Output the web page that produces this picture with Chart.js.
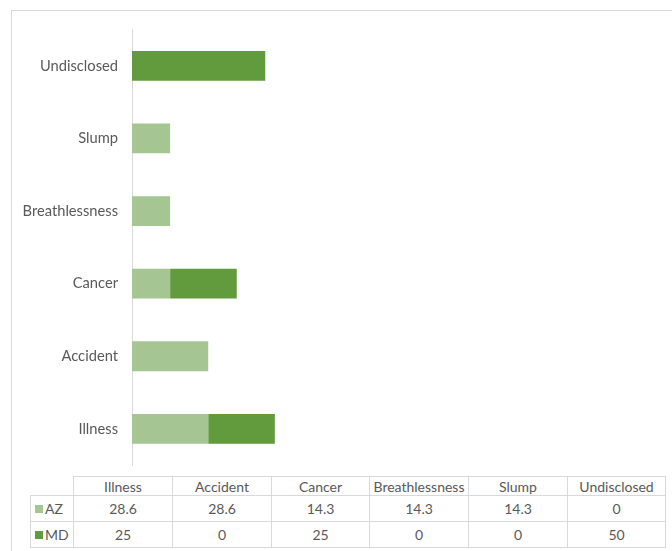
<!DOCTYPE html>
<html>
<head>
<meta charset="utf-8">
<script src="https://cdn.jsdelivr.net/npm/chart.js@4/dist/chart.umd.min.js"></script>
<style>
  html, body { margin: 0; padding: 0; background: #fff; width: 672px; height: 551px; overflow: hidden; }
  #frame { position: absolute; left: 11px; top: 10px; width: 700px; height: 600px; border: 1px solid #d9d9d9; box-sizing: border-box; }
  #wrap { position: absolute; left: 0; top: 0; width: 672px; height: 488px; }
  #tbl { position: absolute; left: 30px; top: 476px; border-collapse: collapse; font-family: Lato, "Open Sans", sans-serif; font-size: 14px; color: #595959; table-layout: fixed; background: #fff; }
  #tbl td { border: 1px solid #d9d9d9; text-align: center; padding: 0; white-space: nowrap; overflow: hidden; }
  #tbl tr.h td { height: 18px; }
  #tbl tr.d td { height: 25px; }
  #tbl td.corner { border-left: none; border-top: none; background: transparent; }
  #tbl td.lg { text-align: left; padding-left: 4px; }
  .sw { display: inline-block; width: 8px; height: 8px; margin-right: 2px; vertical-align: 1px; }
</style>
</head>
<body>
<div id="frame"></div>
<div id="wrap"><canvas id="c" width="672" height="488"></canvas></div>
<table id="tbl"></table>
<script>
const categories = ["Illness", "Accident", "Cancer", "Breathlessness", "Slump", "Undisclosed"];
const seriesNames = ["AZ", "MD"];
const azValues = [28.6, 28.6, 14.3, 14.3, 14.3, 0];
const mdValues = [25, 0, 25, 0, 0, 50];
const seriesColors = ["#a5c593", "#629a3e"];

const allValues = [azValues, mdValues];

// Build the data table below the chart from the same arrays
const tbl = document.getElementById('tbl');
const colW = [43, 99, 99, 98, 99, 99, 98];
let cg = '<colgroup>' + colW.map(w => '<col style="width:' + w + 'px">').join('') + '</colgroup>';
let html = cg + '<tr class="h"><td class="corner"></td>' + categories.map(c => '<td>' + c + '</td>').join('') + '</tr>';
seriesNames.forEach((s, i) => {
  html += '<tr class="d"><td class="lg"><span class="sw" style="background:' + seriesColors[i] + '"></span>' + s + '</td>' +
    allValues[i].map(v => '<td>' + v + '</td>').join('') + '</tr>';
});
tbl.innerHTML = html;

new Chart(document.getElementById('c'), {
  type: 'bar',
  data: {
    labels: categories,
    datasets: seriesNames.map((s, i) => ({
      label: s,
      data: allValues[i],
      backgroundColor: seriesColors[i],
      borderWidth: 0,
      barPercentage: 0.41,
      categoryPercentage: 1.0
    }))
  },
  options: {
    indexAxis: 'y',
    responsive: false,
    animation: false,
    devicePixelRatio: 1,
    layout: { padding: { top: 29.5, bottom: 5, right: 7, left: 0 } },
    plugins: { legend: { display: false }, tooltip: { enabled: false } },
    scales: {
      x: {
        stacked: true,
        display: false,
        min: 0,
        max: 200
      },
      y: {
        stacked: true,
        reverse: true,
        grid: { display: false, drawTicks: false },
        border: { display: true, color: '#d9d9d9', width: 1 },
        ticks: {
          padding: 14,
          color: '#595959',
          font: { family: 'Lato, "Open Sans", sans-serif', size: 14.7 }
        },
        afterFit: (scale) => { scale.width = 132; }
      }
    }
  }
});
</script>
</body>
</html>
